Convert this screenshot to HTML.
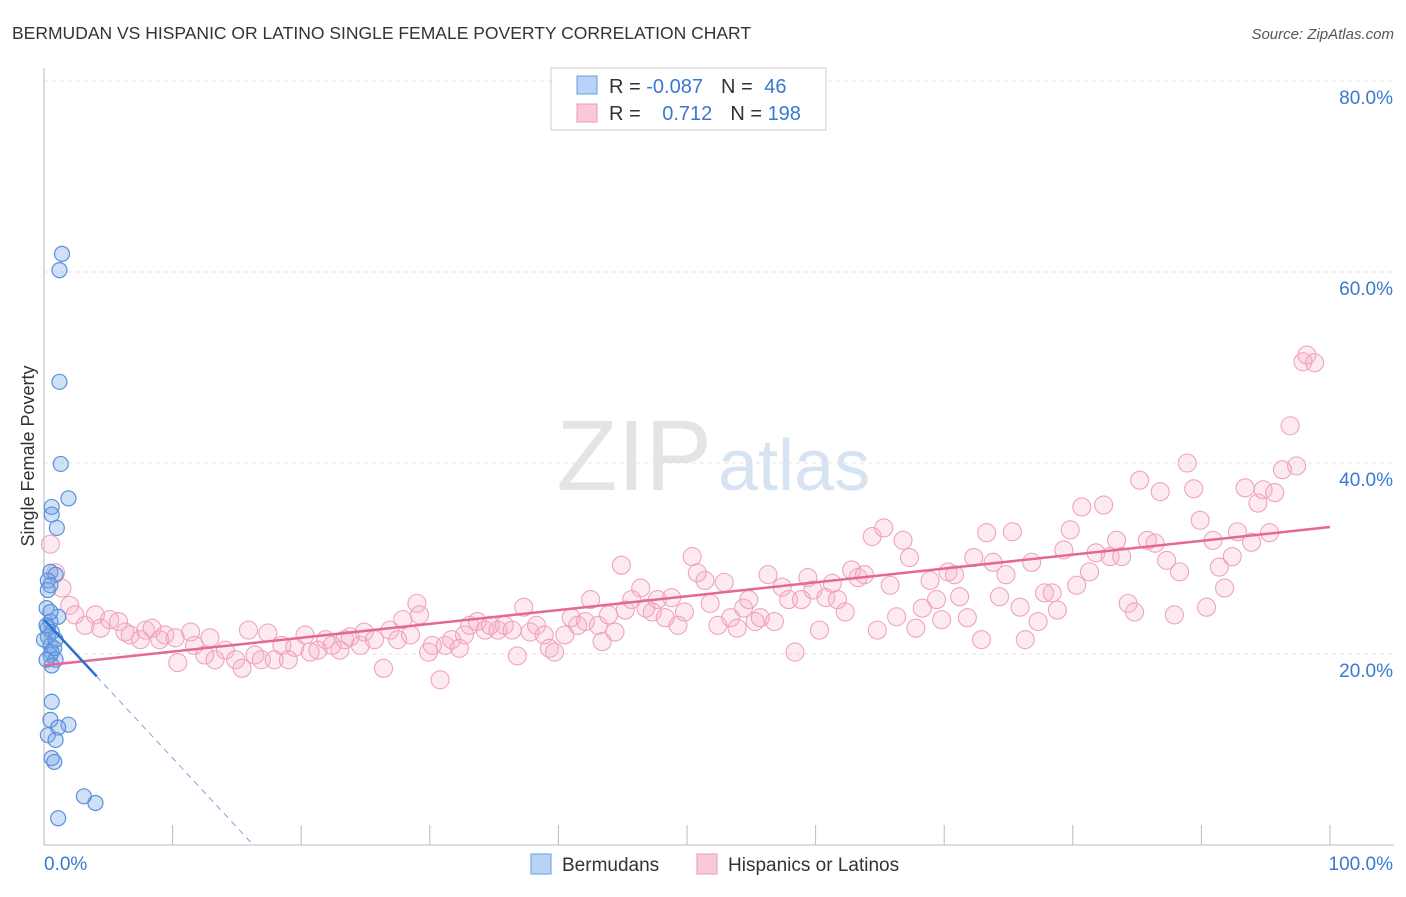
<!DOCTYPE html>
<html><head><meta charset="utf-8"><style>
body{margin:0;background:#fff;font-family:"Liberation Sans",sans-serif}
svg text{font-family:"Liberation Sans",sans-serif}
</style></head><body>
<svg id="chart" width="1406" height="892" viewBox="0 0 1406 892" xmlns="http://www.w3.org/2000/svg">
<text x="12" y="39" font-size="17.5" fill="#333">BERMUDAN VS HISPANIC OR LATINO SINGLE FEMALE POVERTY CORRELATION CHART</text>
<text x="1394" y="39" font-size="15" fill="#555" font-style="italic" text-anchor="end">Source: ZipAtlas.com</text>
<text x="712" y="490" font-size="100" fill="#e4e4e4" text-anchor="end" font-family="Liberation Serif">ZIP</text>
<text x="718" y="490" font-size="72" fill="#d6e3f3">atlas</text>
<g id="grid"></g><g id="axes"></g><g id="pts"></g><g id="trend"></g>
<text transform="translate(34,456) rotate(-90)" font-size="18" fill="#333" text-anchor="middle">Single Female Poverty</text>
<g>
<rect x="551" y="68" width="275" height="62" fill="#fff" stroke="#ccc"/>
<rect x="577" y="76" width="20" height="18" fill="#b8d3f5" stroke="#6b9de0"/>
<rect x="577" y="104" width="20" height="18" fill="#fac8d8" stroke="#ec9ab5"/>
<text x="609" y="93" font-size="20" fill="#333">R = <tspan fill="#3a78d0">-0.087</tspan><tspan dx="18">N = </tspan><tspan dx="6" fill="#3a78d0">46</tspan></text>
<text x="609" y="120" font-size="20" fill="#333">R = <tspan dx="16" fill="#3a78d0">0.712</tspan><tspan dx="18">N = </tspan><tspan fill="#3a78d0">198</tspan></text>
</g>
<g>
<rect x="531" y="854" width="20" height="20" fill="#b8d3f5" stroke="#6b9de0"/>
<text x="562" y="871" font-size="19" fill="#333">Bermudans</text>
<rect x="697" y="854" width="20" height="20" fill="#fac8d8" stroke="#ec9ab5"/>
<text x="728" y="871" font-size="19" fill="#333">Hispanics or Latinos</text>
</g>
</svg>
<script>
const yTicks=[20,40,60,80];
const yTickLabels=["20.0%","40.0%","60.0%","80.0%"];
const xTickLabels=["0.0%","100.0%"];
const blueX=[1.4,1.2,1.2,1.3,1.9,0.6,0.6,1.0,0.5,0.9,0.3,0.5,0.2,1.1,0.5,0.3,0.6,0.3,0.5,0.6,0.5,0.9,0.6,0.6,0.5,1.9,1.1,0.3,0.9,0.6,0.8,3.1,4.0,1.1,0.2,0.8,0.2,0.5,0,0.9,0.3];
const blueY=[61.9,60.2,48.5,39.9,36.3,35.4,34.6,33.2,28.6,28.3,27.7,27.2,24.8,23.9,23.4,22.7,22.3,21.8,20.9,20.2,19.9,19.4,18.8,15.0,13.1,12.6,12.3,11.5,11.0,9.1,8.7,5.1,4.4,2.8,23.0,20.6,19.4,24.4,21.5,21.5,26.7];
const pinkX=[0.5,0.9,1.4,2.0,2.4,3.2,4.0,4.4,5.1,5.8,6.3,6.7,7.5,7.9,8.4,9.0,9.4,10.2,10.4,11.4,11.7,12.5,12.9,13.3,14.1,14.9,15.4,15.9,16.4,16.9,17.4,17.9,18.5,19.0,19.5,20.3,20.7,21.3,21.9,22.4,23.0,23.4,23.8,24.6,24.9,25.7,26.4,26.9,27.5,27.9,28.5,29.0,29.2,29.9,30.2,30.8,31.2,31.7,32.3,32.7,33.1,33.7,34.3,34.7,35.3,35.8,36.4,36.8,37.3,37.8,38.3,38.9,39.3,39.7,40.5,41.0,41.5,42.1,42.5,43.1,43.4,43.9,44.4,44.9,45.2,45.7,46.4,46.8,47.3,47.7,48.3,48.8,49.3,49.8,50.4,50.8,51.4,51.8,52.4,52.9,53.4,53.9,54.4,54.8,55.3,55.7,56.3,56.8,57.4,57.9,58.4,58.9,59.4,59.8,60.3,60.8,61.3,61.7,62.3,62.8,63.3,63.8,64.4,64.8,65.3,65.8,66.3,66.8,67.3,67.8,68.3,68.9,69.4,69.8,70.3,70.8,71.2,71.8,72.3,72.9,73.3,73.8,74.3,74.8,75.3,75.9,76.3,76.8,77.3,77.8,78.4,78.8,79.3,79.8,80.3,80.7,81.3,81.8,82.4,82.9,83.4,83.8,84.3,84.8,85.2,85.8,86.4,86.8,87.3,87.9,88.3,88.9,89.4,89.9,90.4,90.9,91.4,91.8,92.4,92.8,93.4,93.9,94.4,94.8,95.3,95.7,96.3,96.9,97.4,97.9,98.2,98.8];
const pinkY=[31.5,28.5,26.9,25.1,24.1,23.0,24.1,22.7,23.6,23.4,22.3,22.0,21.5,22.5,22.7,21.5,22.0,21.7,19.1,22.3,20.9,19.9,21.7,19.4,20.4,19.4,18.5,22.5,19.9,19.4,22.2,19.4,20.9,19.4,20.7,22.0,20.2,20.4,21.5,20.9,20.4,21.5,21.8,20.9,22.3,21.5,18.5,22.5,21.5,23.6,22.0,25.3,24.1,20.2,20.9,17.3,20.9,21.5,20.6,22.0,23.0,23.4,22.5,23.0,22.5,23.0,22.5,19.8,24.9,22.3,23.0,22.0,20.6,20.2,22.0,23.8,23.0,23.4,25.7,23.0,21.3,24.1,22.3,29.3,24.6,25.7,26.9,24.8,24.4,25.7,23.8,25.9,23.0,24.4,30.2,28.5,27.7,25.3,23.0,27.5,23.8,22.7,24.8,25.7,23.4,23.8,28.3,23.4,27.0,25.7,20.2,25.7,28.0,26.7,22.5,25.9,27.4,25.7,24.4,28.8,28.0,28.3,32.3,22.5,33.2,27.2,23.9,31.9,30.1,22.7,24.8,27.7,25.7,23.6,28.6,28.3,26.0,23.8,30.1,21.5,32.7,29.6,26.0,28.3,32.8,24.9,21.5,29.6,23.4,26.4,26.4,24.6,30.9,33.0,27.2,35.4,28.6,30.6,35.6,30.2,31.9,30.2,25.3,24.4,38.2,31.9,31.6,37.0,29.8,24.1,28.6,40.0,37.3,34.0,24.9,31.9,29.1,26.9,30.2,32.8,37.4,31.7,35.8,37.2,32.7,36.9,39.3,43.9,39.7,50.6,51.3,50.5];
const pinkTrend=[18.8,33.3];
const blueTrend=[23.6,-1.45];
const X0=44,X1=1330,Y0=845,PX=9.55;
const sx=v=>X0+(X1-X0)*v/100, sy=v=>Y0-v*PX;
const NS="http://www.w3.org/2000/svg";
function mk(t,a,p){const e=document.createElementNS(NS,t);for(const k in a)e.setAttribute(k,a[k]);p.appendChild(e);return e;}
const grid=document.getElementById('grid'),axes=document.getElementById('axes'),pts=document.getElementById('pts'),tr=document.getElementById('trend');
yTicks.forEach((t,i)=>{
 const l=mk('line',{x1:X0,x2:1394,y1:sy(t),y2:sy(t),stroke:'#e6e6e6','stroke-dasharray':'4,4'},grid);
 
 
 const tx=mk('text',{x:1393,y:sy(t)+23,'font-size':19,fill:'#3a78d0','text-anchor':'end'},axes);
 tx.textContent=yTickLabels[i];
 
 
});
const al=mk('line',{x1:X0,x2:X0,y1:68,y2:Y0,stroke:'#bbb'},axes);


const bl=mk('line',{x1:X0,x2:1394,y1:Y0,y2:Y0,stroke:'#bbb'},axes);


for(let i=0;i<=10;i++){const t=mk('line',{x1:sx(i*10),x2:sx(i*10),y1:Y0,y2:Y0-20,stroke:'#bbb'},axes);
 
 }
[[0,'start',44],[100,'end',1393]].forEach((d,i)=>{const t=mk('text',{x:d[2],y:870,'font-size':19,fill:'#3a78d0','text-anchor':d[1]},axes);t.textContent=xTickLabels[i];
 
 });
pinkX.forEach((x,i)=>{const c=mk('circle',{cx:sx(x),cy:sy(pinkY[i]),r:9,fill:'rgba(246,170,198,0.25)',stroke:'#efa3bd','stroke-width':1.1},pts);
 
 });
blueX.forEach((x,i)=>{const c=mk('circle',{cx:sx(x),cy:sy(blueY[i]),r:7.5,fill:'rgba(120,165,230,0.35)',stroke:'#5a8fdb','stroke-width':1.2},pts);
 
 });
const pl=mk('line',{x1:sx(0),y1:sy(pinkTrend[0]),x2:sx(100),y2:sy(pinkTrend[1]),stroke:'#e4669a','stroke-width':2.5},tr);


const bz=-blueTrend[0]/blueTrend[1];
const b1=mk('line',{x1:sx(0),y1:sy(blueTrend[0]),x2:sx(4.1),y2:sy(blueTrend[0]+blueTrend[1]*4.1),stroke:'#2e6fd0','stroke-width':2.5},tr);


const b2=mk('line',{x1:sx(4.1),y1:sy(blueTrend[0]+blueTrend[1]*4.1),x2:sx(bz),y2:sy(0),stroke:'#7aa3dd','stroke-width':1,'stroke-dasharray':'6,5'},tr);


</script>
</body></html>
